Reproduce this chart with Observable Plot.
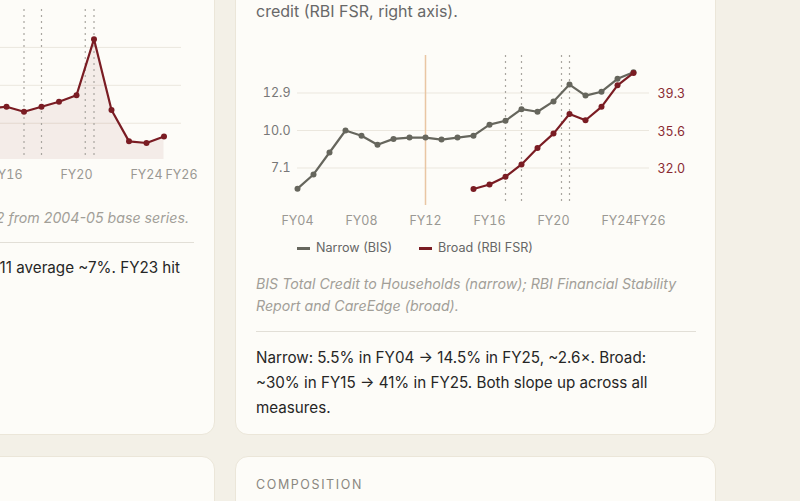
<!DOCTYPE html>
<html>
<head>
<meta charset="utf-8">
<script src="https://cdn.jsdelivr.net/npm/d3@7"></script>
<script src="https://cdn.jsdelivr.net/npm/@observablehq/plot@0.6"></script>
<style>
  html, body { margin: 0; padding: 0; }
  body { background: #f3f0e7; font-family: Inter, "Noto Sans", sans-serif; }
  #page { position: relative; width: 800px; height: 501px; overflow: hidden; background: #f3f0e7; }
  .card { position: absolute; box-sizing: border-box; background: #fdfcf8; border: 1px solid #ebe6d9; border-radius: 13px; }
  .abs { position: absolute; white-space: nowrap; }
  .sub { font-size: 16px; line-height: 22px; color: #686868; }
  .cap { font-size: 14.2px; line-height: 22px; color: #a29f98; font-style: italic; }
  .body { font-size: 15.2px; line-height: 25px; color: #262626; }
  .rule { height: 1px; background: #e2dfd7; }
  .kicker { font-size: 12.5px; line-height: 16px; letter-spacing: 1.6px; color: #8a8780; }
  .legend { font-size: 12.6px; line-height: 18px; color: #666; display: flex; gap: 27px; }
  .legend span.item { display: inline-flex; align-items: center; }
  .legend i { display: inline-block; width: 13px; height: 3px; margin-right: 6px; }
</style>
</head>
<body>
<div id="page">
  <!-- cards -->
  <div class="card" style="left:-266px; top:-120px; width:481px; height:555px;"></div>
  <div class="card" style="left:235px; top:-120px; width:481px; height:555px;"></div>
  <div class="card" style="left:-266px; top:456px; width:481px; height:200px;"></div>
  <div class="card" style="left:235px; top:456px; width:481px; height:200px;"></div>

  <!-- left card content -->
  <div id="leftChart" class="abs" style="left:-245px; top:-6px;"></div>
  <div class="abs cap" style="left:-311px; width:500px; top:207px; text-align:right;">Savings, % of GDP; pre-FY12 from 2004-05 base series.</div>
  <div class="abs rule" style="left:-245px; width:439px; top:242px;"></div>
  <div class="abs body" style="left:-320px; width:500px; top:255px; text-align:right;">Near the FY04–FY11 average ~7%. FY23 hit</div>
  <div class="abs body" style="left:-245px; top:280px;">a multi-decade low.</div>

  <!-- right card content -->
  <div class="abs sub" style="left:256px; top:-22px;">Household debt, % of GDP: narrow (BIS, left axis) and broad<br>credit (RBI FSR, right axis).</div>
  <div id="rightChart" class="abs" style="left:256px; top:40px;"></div>
  <div class="abs legend" style="left:297px; top:239px;">
    <span class="item"><i style="background:#66665d"></i>Narrow (BIS)</span>
    <span class="item"><i style="background:#7a1c23"></i>Broad (RBI FSR)</span>
  </div>
  <div class="abs cap" style="left:256px; top:273px;">BIS Total Credit to Households (narrow); RBI Financial Stability<br>Report and CareEdge (broad).</div>
  <div class="abs rule" style="left:256px; width:440px; top:331px;"></div>
  <div class="abs body" style="left:256px; top:345px;">Narrow: 5.5% in FY04 → 14.5% in FY25, ~2.6×. Broad:<br>~30% in FY15 → 41% in FY25. Both slope up across all<br>measures.</div>

  <div class="abs kicker" style="left:256px; top:477px;">COMPOSITION</div>
</div>

<script>
// ---------- data ----------
const xTicks = [2004, 2008, 2012, 2016, 2020, 2024, 2026];
const xTickLabels = ["FY04", "FY08", "FY12", "FY16", "FY20", "FY24", "FY26"];
const eventYears = [2017, 2018, 2020.5, 2021];
const seriesBreakYear = [2012];

// Right card: household debt
const narrowYears = [2004, 2005, 2006, 2007, 2008, 2009, 2010, 2011, 2012, 2013, 2014,
                     2015, 2016, 2017, 2018, 2019, 2020, 2021, 2022, 2023, 2024, 2025];
const narrowValues = [5.5, 6.6, 8.3, 10.0, 9.6, 8.9, 9.35, 9.45, 9.45, 9.3, 9.45,
                      9.6, 10.45, 10.75, 11.65, 11.45, 12.25, 13.55, 12.7, 13.0, 14.0, 14.5];
const broadYears = [2015, 2016, 2017, 2018, 2019, 2020, 2021, 2022, 2023, 2024, 2025];
const broadValues = [30.0, 30.45, 31.2, 32.4, 34.0, 35.4, 37.3, 36.7, 38.0, 40.1, 41.3];
const leftTicks = [7.1, 10.0, 12.9];
const rightTicks = [32.0, 35.6, 39.3];
const leftDomain = [4.2, 15.8];
const rightDomain = [28.4, 43.0];

// Left card: household net financial savings (visible part)
const savYears = [2015, 2016, 2017, 2018, 2019, 2020, 2021, 2022, 2023, 2024, 2025];
const savValues = [7.3, 7.4, 7.1, 7.4, 7.7, 8.1, 11.5, 7.2, 5.3, 5.2, 5.6];
const savTicks = [6.4, 8.7, 11.0];
const savDomain = [4.2, 13.3];

// ---------- colours ----------
const NARROW = "#66665d";
const BROAD = "#7a1c23";
const GRID = "#ebe7de";
const FONT = "Inter, 'Noto Sans', sans-serif";

const fmtX = d => xTickLabels[xTicks.indexOf(d)];

// map right-axis values into the left y scale
const toLeft = v => leftDomain[0] + (v - rightDomain[0]) * (leftDomain[1] - leftDomain[0]) / (rightDomain[1] - rightDomain[0]);
const fromLeft = u => rightDomain[0] + (u - leftDomain[0]) * (rightDomain[1] - rightDomain[0]) / (leftDomain[1] - leftDomain[0]);

const narrow = narrowYears.map((year, i) => ({year, v: narrowValues[i]}));
const broad = broadYears.map((year, i) => ({year, v: toLeft(broadValues[i])}));
const sav = savYears.map((year, i) => ({year, v: savValues[i]}));

const right = Plot.plot({
  width: 440,
  height: 195,
  marginLeft: 41,
  marginRight: 47,
  marginTop: 15,
  marginBottom: 30,
  style: {fontFamily: FONT, fontSize: "12.5px", background: "transparent", overflow: "visible"},
  x: {domain: [2004, 2026], axis: null, label: null},
  y: {domain: leftDomain, axis: null, label: null},
  marks: [
    Plot.gridY(leftTicks, {stroke: GRID, strokeOpacity: 1}),
    Plot.ruleX(seriesBreakYear, {stroke: "#e9c6a3", strokeWidth: 1.5}),
    Plot.ruleX(eventYears, {stroke: "#a9a6a0", strokeWidth: 1.2, strokeDasharray: "2,4"}),
    Plot.axisY(leftTicks, {anchor: "left", tickSize: 0, tickPadding: 7, tickFormat: d => d.toFixed(1), color: "#777", label: null, fontSize: 12.5}),
    Plot.axisY(rightTicks.map(toLeft), {anchor: "right", tickSize: 0, tickPadding: 8, tickFormat: d => fromLeft(d).toFixed(1), color: "#8a2a33", label: null, fontSize: 12.5}),
    Plot.axisX(xTicks, {anchor: "bottom", tickSize: 0, tickPadding: 11, tickFormat: fmtX, color: "#9a9893", label: null, fontSize: 12.5}),
    Plot.line(narrow, {x: "year", y: "v", stroke: NARROW, strokeWidth: 2.2}),
    Plot.dot(narrow, {x: "year", y: "v", r: 3, fill: NARROW}),
    Plot.line(broad, {x: "year", y: "v", stroke: BROAD, strokeWidth: 2.2}),
    Plot.dot(broad, {x: "year", y: "v", r: 3, fill: BROAD})
  ]
});
document.getElementById("rightChart").appendChild(right);

const left = Plot.plot({
  width: 440,
  height: 195,
  marginLeft: 41,
  marginRight: 14,
  marginTop: 15,
  marginBottom: 30,
  style: {fontFamily: FONT, fontSize: "12.5px", background: "transparent", overflow: "visible"},
  x: {domain: [2004, 2026], axis: null, label: null},
  y: {domain: savDomain, axis: null, label: null},
  marks: [
    Plot.gridY(savTicks, {stroke: GRID, strokeOpacity: 1}),
    Plot.areaY(sav, {x: "year", y1: savDomain[0], y2: "v", fill: BROAD, fillOpacity: 0.07}),
    Plot.ruleX(seriesBreakYear, {stroke: "#e9c6a3", strokeWidth: 1.5}),
    Plot.ruleX(eventYears, {stroke: "#a9a6a0", strokeWidth: 1.2, strokeDasharray: "2,4"}),
    Plot.axisX(xTicks, {anchor: "bottom", tickSize: 0, tickPadding: 11, tickFormat: fmtX, color: "#9a9893", label: null, fontSize: 12.5}),
    Plot.line(sav, {x: "year", y: "v", stroke: BROAD, strokeWidth: 2.2}),
    Plot.dot(sav, {x: "year", y: "v", r: 3, fill: BROAD})
  ]
});
document.getElementById("leftChart").appendChild(left);
</script>
</body>
</html>
